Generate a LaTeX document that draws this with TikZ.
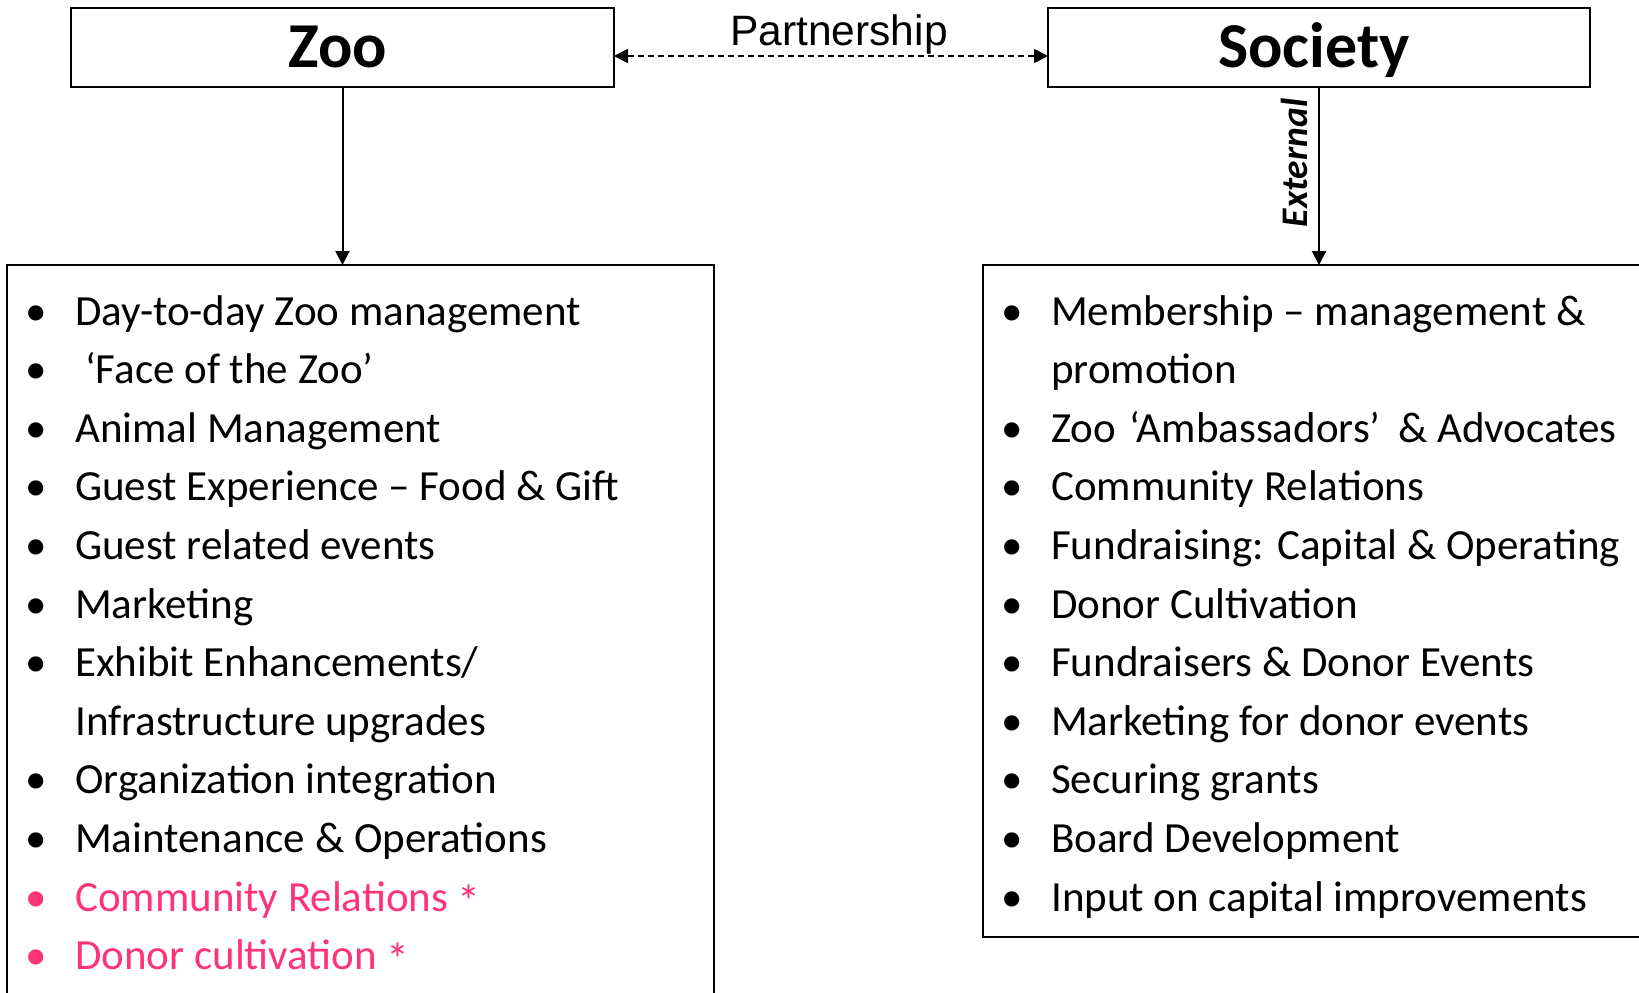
\documentclass[tikz,border=0pt]{standalone}
\usepackage{fontspec}
\setmainfont{Carlito}
\newfontfamily\arialfont{Liberation Sans}
\usetikzlibrary{arrows.meta}
\definecolor{pinkc}{RGB}{255,51,120}
\newcommand{\bigast}{{\fontsize{46}{50}\selectfont\raisebox{-6pt}{*}}}
\begin{document}
\begin{tikzpicture}[x=1pt,y=-1pt,
  topbox/.style={draw, line width=2.6pt, inner sep=0pt, outer sep=0pt, text height=40pt, text depth=0pt, font=\fontsize{64}{70}\selectfont\bfseries},
  listbox/.style={draw, line width=2.2pt, inner sep=0pt, outer sep=0pt, anchor=north west},
  item/.style={anchor=base west, inner sep=0pt, font=\fontsize{43}{50}\selectfont},
  bul/.style={anchor=base, inner sep=0pt, font=\fontsize{43}{50}\selectfont},
  conn/.style={line width=2pt, -{Triangle[length=14pt,width=14pt]}},
  pink/.style={text=pinkc}]
\useasboundingbox (0,0) rectangle (1639,993);
% top boxes
\node[topbox, minimum width=543pt, minimum height=79pt, text width=533pt, align=center] (zoo) at (342.5,47.5) {\hspace*{-10pt}Zoo};
\node[topbox, minimum width=542pt, minimum height=79pt, text width=532pt, align=center] (soc) at (1319,47.5) {\hspace*{-10pt}Society};
% list boxes
\node[listbox, minimum width=707pt, minimum height=760pt] (zoolist) at (7,265) {};
\node[listbox, minimum width=720pt, minimum height=672pt] (soclist) at (983,265) {};
% connectors
\draw[conn] (zoo.south) -- (zoo.south |- zoolist.north);
\draw[conn] (soc.south) -- (soc.south |- soclist.north);
\draw[line width=1.8pt, dash pattern=on 6pt off 4pt, {Triangle[length=14pt,width=14pt]}-{Triangle[length=14pt,width=14pt]}]
  ([yshift=-8.5pt]zoo.east) -- ([yshift=-8.5pt]soc.west);
\node[anchor=base, inner sep=0pt, font=\arialfont\fontsize{42.5}{46}\selectfont] (partner) at (839,45) {Partnership};
\node[rotate=90, inner sep=0pt, font=\fontsize{37.5}{42}\selectfont\bfseries\itshape] (ext) at (1294,163) {External};
% left list
\node[bul] (lb0) at (36.6,325) {•};      \node[item] (l0) at (75,325) {Day-to-day Zoo management};
\node[bul] (lb1) at (36.6,383.6) {•};    \node[item] (l1) at (75,383.6) {\hspace{10pt}‘Face of the Zoo’};
\node[bul] (lb2) at (36.6,442.2) {•};    \node[item] (l2) at (75,442.2) {Animal Management};
\node[bul] (lb3) at (36.6,500.8) {•};    \node[item] (l3) at (75,500.8) {Guest Experience – Food \& Gift};
\node[bul] (lb4) at (36.6,559.4) {•};    \node[item] (l4) at (75,559.4) {Guest related events};
\node[bul] (lb5) at (36.6,618) {•};      \node[item] (l5) at (75,618) {Marketing};
\node[bul] (lb6) at (36.6,676.6) {•};    \node[item] (l6) at (75,676.6) {Exhibit Enhancements/};
                                         \node[item] (l7) at (75,735.2) {Infrastructure upgrades};
\node[bul] (lb8) at (36.6,793.8) {•};    \node[item] (l8) at (75,793.8) {Organization integration};
\node[bul] (lb9) at (36.6,852.4) {•};    \node[item] (l9) at (75,852.4) {Maintenance \& Operations};
\node[bul,pink] (lb10) at (36.6,911) {•};   \node[item,pink] (l10) at (75,911) {Community Relations \bigast};
\node[bul,pink] (lb11) at (36.6,969.6) {•}; \node[item,pink] (l11) at (75,969.6) {Donor cultivation \bigast};
% right list
\node[bul] (rb0) at (1012,325) {•};      \node[item] (r0) at (1051,325) {Membership – management \&};
                                         \node[item] (r1) at (1051,383.6) {promotion};
\node[bul] (rb2) at (1012,442.2) {•};    \node[item] (r2) at (1051,442.2) {Zoo\hspace{4pt} ‘Ambassadors’\hspace{8pt} \& Advocates};
\node[bul] (rb3) at (1012,500.8) {•};    \node[item] (r3) at (1051,500.8) {Community Relations};
\node[bul] (rb4) at (1012,559.4) {•};    \node[item] (r4) at (1051,559.4) {Fundraising: Capital \& Operating};
\node[bul] (rb5) at (1012,618) {•};      \node[item] (r5) at (1051,618) {Donor Cultivation};
\node[bul] (rb6) at (1012,676.6) {•};    \node[item] (r6) at (1051,676.6) {Fundraisers \& Donor Events};
\node[bul] (rb7) at (1012,735.2) {•};    \node[item] (r7) at (1051,735.2) {Marketing for donor events};
\node[bul] (rb8) at (1012,793.8) {•};    \node[item] (r8) at (1051,793.8) {Securing grants};
\node[bul] (rb9) at (1012,852.4) {•};    \node[item] (r9) at (1051,852.4) {Board Development};
\node[bul] (rb10) at (1012,911) {•};     \node[item] (r10) at (1051,911) {Input on capital improvements};
\end{tikzpicture}
\end{document}
